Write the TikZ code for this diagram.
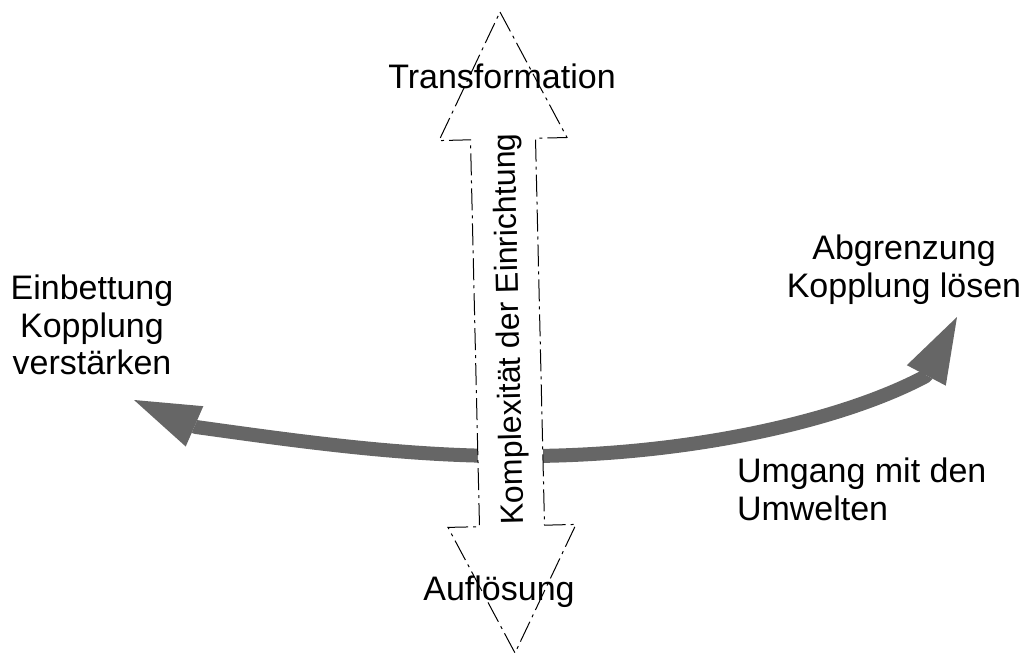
\documentclass[tikz,border=0pt]{standalone}
\usepackage{fontspec}
\setmainfont{Liberation Sans}
\usetikzlibrary{arrows.meta}
\definecolor{arrowgray}{HTML}{666666}
\begin{document}
\begin{tikzpicture}[x=1pt,y=-1pt,
  lbl/.style={font=\fontsize{34}{37.5}\selectfont, inner sep=0pt, outer sep=0pt},
  axislbl/.style={font=\fontsize{32}{36}\selectfont, inner sep=0pt, outer sep=0pt},
  bigarrow/.style={draw=arrowgray, line width=14pt, line join=round, -{Triangle[length=66pt,width=44pt,line width=0pt]}},
  dashdot/.style={draw=black, line width=1pt, dash pattern=on 22pt off 5pt on 3pt off 5pt, fill=white}]
\useasboundingbox (0,0) rectangle (1030,655);
% curved arrows
\coordinate (mid) at (508,456);
\coordinate (lbase) at (196,427);
\coordinate (lefttip) at (134,400);
\coordinate (rbase) at (926,376);
\coordinate (righttip) at (957,317);
\draw[bigarrow] (mid) .. controls (400,456) and (290,440) .. (lbase) -- (lefttip);
\draw[bigarrow] (mid) .. controls (680,458) and (840,422) .. (rbase) -- (righttip);
% vertical double arrow
\draw[dashdot] (500,12) -- (567,137.5) -- (535.5,138.3) -- (544.5,525.2) -- (576,524.4)
  -- (515,653) -- (448,527.4) -- (479.5,526.7) -- (470.5,139.8) -- (439,140.6) -- cycle;
\node[axislbl, rotate=91.34] (axis) at (511,329) {Komplexität der Einrichtung};
% labels
\node[lbl, anchor=base] (top) at (502,89) {Transformation};
\node[lbl, anchor=base] (bottom) at (499,600) {Auflösung};
\node[lbl, anchor=north, align=center] (left) at (92,275) {Einbettung\\Kopplung\\verstärken};
\node[lbl, anchor=north, align=center] (right) at (904,235) {Abgrenzung\\Kopplung lösen};
\node[lbl, anchor=north west, align=left] (env) at (737,458) {Umgang mit den\\Umwelten};
\end{tikzpicture}
\end{document}
